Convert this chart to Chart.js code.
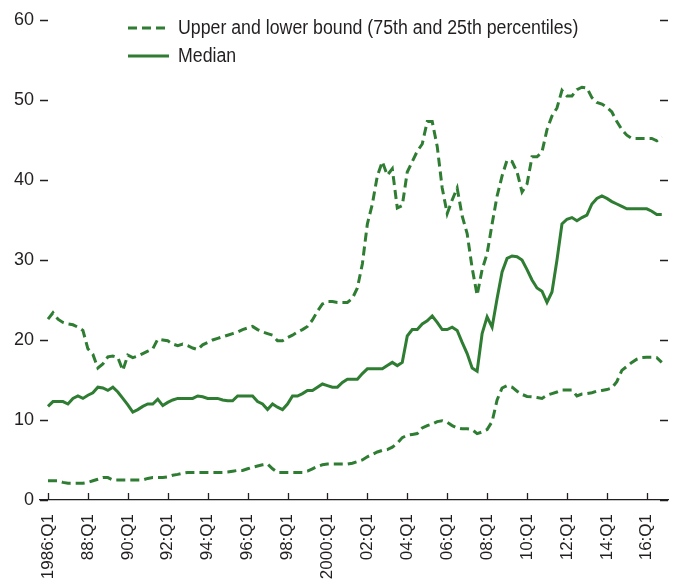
<!DOCTYPE html>
<html>
<head>
<title>Upper and lower bound, median</title>
<script src="https://cdn.jsdelivr.net/npm/chart.js"></script>
<style>
  body { margin: 0; background: #fff; }
  #wrap { width: 673px; height: 583px; }
</style>
</head>
<body>
<div id="wrap"><canvas id="chart"></canvas></div>
<script>
// quarterly values, 1986:Q1 .. 2016:Q4
const median = [
  11.7, 12.3, 12.3, 12.3, 12.0, 12.7, 13.0, 12.7, 13.1, 13.4,
  14.1, 14.0, 13.7, 14.1, 13.5, 12.7, 11.9, 11.0, 11.3, 11.7,
  12.0, 12.0, 12.6, 11.8, 12.2, 12.5, 12.7, 12.7, 12.7, 12.7,
  13.0, 12.9, 12.7, 12.7, 12.7, 12.5, 12.4, 12.4, 13.0, 13.0,
  13.0, 13.0, 12.3, 12.0, 11.3, 12.0, 11.6, 11.3, 12.0, 13.0,
  13.0, 13.3, 13.7, 13.7, 14.1, 14.5, 14.3, 14.1, 14.1, 14.7,
  15.1, 15.1, 15.1, 15.8, 16.4, 16.4, 16.4, 16.4, 16.8, 17.2,
  16.8, 17.2, 20.5, 21.3, 21.3, 22.0, 22.4, 23.0, 22.2, 21.3,
  21.3, 21.6, 21.2, 19.7, 18.3, 16.5, 16.1, 20.8, 22.9, 21.6,
  25.2, 28.5, 30.2, 30.5, 30.4, 30.0, 28.8, 27.5, 26.5, 26.1,
  24.7, 26.0, 30.0, 34.5, 35.1, 35.3, 34.9, 35.3, 35.6, 37.0,
  37.7, 38.0, 37.7, 37.3, 37.0, 36.7, 36.4, 36.4, 36.4, 36.4,
  36.4, 36.1, 35.7, 35.7
];
const upper = [
  22.6, 23.4, 22.6, 22.2, 22.0, 21.9, 21.6, 21.2, 18.9, 18.2,
  16.5, 17.0, 17.9, 18.0, 17.8, 16.2, 18.1, 17.8, 18.0, 18.3,
  18.6, 18.9, 20.1, 20.0, 19.9, 19.5, 19.3, 19.5, 19.3, 19.0,
  18.8, 19.4, 19.7, 20.0, 20.2, 20.4, 20.6, 20.8, 21.0, 21.3,
  21.5, 21.7, 21.3, 21.0, 20.8, 20.6, 19.9, 19.9, 20.3, 20.6,
  21.0, 21.3, 21.7, 22.5, 23.6, 24.5, 24.8, 24.8, 24.7, 24.7,
  24.7, 25.2, 26.5, 29.5, 34.5, 37.0, 40.5, 42.3, 40.6, 41.4,
  36.5, 36.8, 41.0, 42.3, 43.6, 44.5, 47.3, 47.3, 44.2, 39.0,
  35.8, 37.5, 39.0, 35.5, 33.3, 29.0, 25.6, 28.8, 30.8, 34.5,
  38.0, 40.5, 42.5, 42.3, 41.0, 38.5, 39.5, 42.9, 42.9, 43.5,
  46.3, 48.0, 49.0, 51.2, 50.5, 50.5, 51.3, 51.6, 51.5, 50.3,
  49.7, 49.5, 49.1, 48.5, 47.3, 46.3, 45.6, 45.2, 45.2, 45.2,
  45.2, 45.2, 44.9, 45.4
];
const lower = [
  2.4, 2.4, 2.4, 2.2, 2.1, 2.1, 2.1, 2.1, 2.2, 2.4,
  2.6, 2.8, 2.8, 2.5, 2.5, 2.5, 2.5, 2.5, 2.5, 2.5,
  2.7, 2.8, 2.8, 2.8, 2.9, 3.1, 3.2, 3.35, 3.45, 3.45,
  3.45, 3.45, 3.45, 3.45, 3.45, 3.45, 3.5, 3.6, 3.7, 3.7,
  3.9, 4.1, 4.25, 4.4, 4.5, 3.9, 3.45, 3.45, 3.45, 3.45,
  3.45, 3.45, 3.6, 3.9, 4.2, 4.4, 4.5, 4.5, 4.5, 4.5,
  4.5, 4.6, 4.8, 5.0, 5.4, 5.7, 6.0, 6.2, 6.3, 6.6,
  7.1, 7.8, 8.1, 8.2, 8.3, 9.0, 9.3, 9.5, 9.8, 9.9,
  9.7, 9.3, 9.0, 8.9, 8.9, 8.8, 8.3, 8.5, 8.8, 9.8,
  12.5, 14.0, 14.3, 14.1, 13.6, 13.2, 12.95, 12.9, 12.8, 12.7,
  13.1, 13.3, 13.5, 13.75, 13.75, 13.75, 13.0, 13.25, 13.3, 13.4,
  13.6, 13.7, 13.8, 14.0, 14.8, 16.2, 16.7, 17.2, 17.6, 17.8,
  17.85, 17.85, 17.8, 17.2
];

// x ticks every two years (8 quarters from 1986:Q1)
const tickQuarters = [0, 8, 16, 24, 32, 40, 48, 56, 64, 72, 80, 88, 96, 104, 112, 120];
const tickLabels = ['1986:Q1', '88:Q1', '90:Q1', '92:Q1', '94:Q1', '96:Q1', '98:Q1', '2000:Q1',
                    '02:Q1', '04:Q1', '06:Q1', '08:Q1', '10:Q1', '12:Q1', '14:Q1', '16:Q1'];
const yTicks = [0, 10, 20, 30, 40, 50, 60];

const green = '#2e7d32';
const ink = '#231f20';
const fontFamily = "'Liberation Sans', Arial, sans-serif";

const toPoints = arr => arr.map((v, i) => ({ x: i, y: v }));

const legendItems = [
  { text: 'Upper and lower bound (75th and 25th percentiles)', dash: [9, 5] },
  { text: 'Median', dash: [] }
];

// short inward tick marks on left, right and bottom edges
const tickMarks = {
  id: 'tickMarks',
  afterDraw(chart) {
    const { ctx, chartArea: a, scales } = chart;
    ctx.save();
    ctx.strokeStyle = ink;
    ctx.lineWidth = 1.3;
    ctx.beginPath();
    yTicks.forEach(v => {
      const y = Math.round(scales.y.getPixelForValue(v)) + 0.5;
      ctx.moveTo(a.left, y); ctx.lineTo(a.left + 8, y);
      ctx.moveTo(a.right - 8, y); ctx.lineTo(a.right, y);
    });
    tickQuarters.forEach(q => {
      const x = Math.round(scales.x.getPixelForValue(q)) + 0.5;
      ctx.moveTo(x, a.bottom); ctx.lineTo(x, a.bottom - 7);
    });
    ctx.stroke();
    ctx.restore();
  }
};

// legend in the top of the plot, condensed type
const legendBox = {
  id: 'legendBox',
  afterDraw(chart) {
    const { ctx } = chart;
    ctx.save();
    ctx.font = '20px ' + fontFamily;
    ctx.textBaseline = 'middle';
    legendItems.forEach((item, i) => {
      const y = 28 + i * 28;
      ctx.strokeStyle = green;
      ctx.lineWidth = 3;
      ctx.setLineDash(item.dash);
      ctx.beginPath();
      ctx.moveTo(128, y); ctx.lineTo(169, y);
      ctx.stroke();
      ctx.setLineDash([]);
      ctx.fillStyle = ink;
      ctx.save();
      ctx.translate(178, y);
      ctx.scale(0.887, 1);
      ctx.fillText(item.text, 0, 0);
      ctx.restore();
    });
    ctx.restore();
  }
};

const lineStyle = (data, dash) => ({
  data: toPoints(data),
  borderColor: green,
  borderWidth: 3,
  borderDash: dash,
  pointRadius: 0,
  tension: 0,
  fill: false
});

new Chart(document.getElementById('chart'), {
  type: 'line',
  data: {
    datasets: [
      Object.assign({ label: 'Upper bound' }, lineStyle(upper, [9, 5])),
      Object.assign({ label: 'Lower bound' }, lineStyle(lower, [9, 5])),
      Object.assign({ label: 'Median' }, lineStyle(median, []))
    ]
  },
  options: {
    responsive: true,
    maintainAspectRatio: false,
    animation: false,
    layout: { padding: { top: 20, right: 5, left: 0, bottom: 0 } },
    plugins: {
      legend: { display: false },
      tooltip: { enabled: false }
    },
    scales: {
      x: {
        type: 'linear',
        min: -1.6,
        max: 124.25,
        afterBuildTicks: scale => { scale.ticks = tickQuarters.map(v => ({ value: v })); },
        afterFit: scale => {
          scale.height = 83;
          scale.paddingLeft = 0;
          scale.paddingRight = 0;
        },
        grid: { display: true, drawOnChartArea: false, drawTicks: false },
        border: { display: true, color: ink, width: 1.3 },
        ticks: {
          autoSkip: false,
          minRotation: 90,
          maxRotation: 90,
          padding: 14,
          color: ink,
          font: { family: fontFamily, size: 17 },
          callback: v => tickLabels[tickQuarters.indexOf(v)]
        }
      },
      y: {
        min: 0,
        max: 60,
        afterBuildTicks: scale => { scale.ticks = yTicks.map(v => ({ value: v })); },
        afterFit: scale => {
          scale.width = 40;
          scale.paddingTop = 0;
          scale.paddingBottom = 0;
        },
        grid: { display: true, drawOnChartArea: false, drawTicks: false },
        border: { display: false },
        ticks: {
          padding: 6,
          color: ink,
          font: { family: fontFamily, size: 18 }
        }
      }
    }
  },
  plugins: [tickMarks, legendBox]
});
</script>
</body>
</html>
